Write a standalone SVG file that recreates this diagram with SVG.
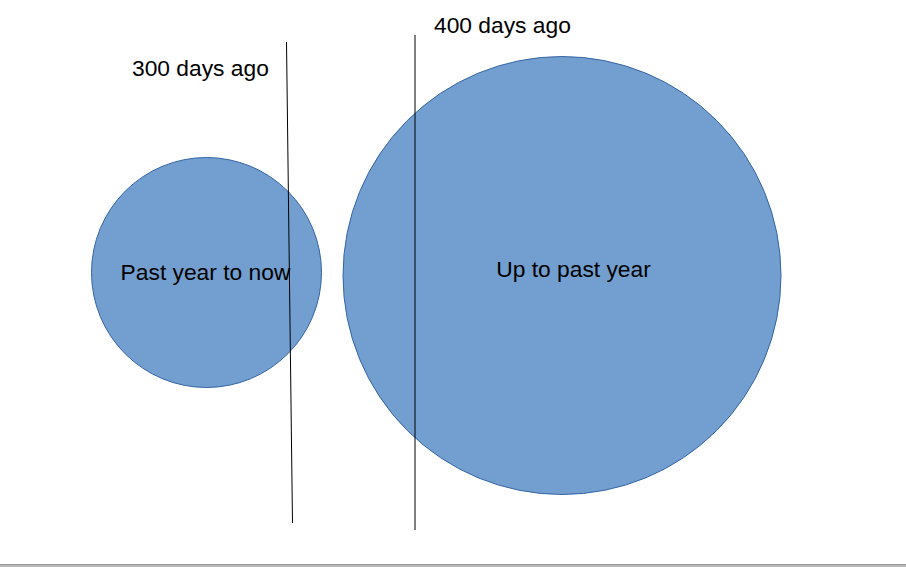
<svg xmlns="http://www.w3.org/2000/svg" width="906" height="567" viewBox="0 0 906 567">
<style>
.c{fill:#729fcf;stroke:#3465a4;stroke-width:1}
.t{font-family:"Liberation Sans",Arial,sans-serif;font-size:22.8px;fill:#000}
.l{stroke:#000;stroke-width:1;fill:none}
</style>
<rect width="906" height="567" fill="#fff"/>
<g id="past-year-to-now">
<circle class="c" cx="206.5" cy="272.5" r="115"/>
<text class="t" x="205.5" y="280" text-anchor="middle">Past year to now</text>
</g>
<g id="up-to-past-year">
<circle class="c" cx="562" cy="275.5" r="219"/>
<text class="t" x="573.5" y="277" text-anchor="middle">Up to past year</text>
</g>
<g id="connectors">
<line class="l" x1="286.5" y1="42" x2="292.5" y2="523"/>
<line class="l" x1="415" y1="35" x2="415" y2="530" stroke="#333"/>
</g>
<g id="labels">
<text class="t" x="132" y="76">300 days ago</text>
<text class="t" x="434" y="33">400 days ago</text>
</g>
<rect x="0" y="564" width="906" height="3" fill="#b8b8b8"/>
<rect x="0" y="564" width="906" height="1" fill="#9a9a9a"/>
</svg>
